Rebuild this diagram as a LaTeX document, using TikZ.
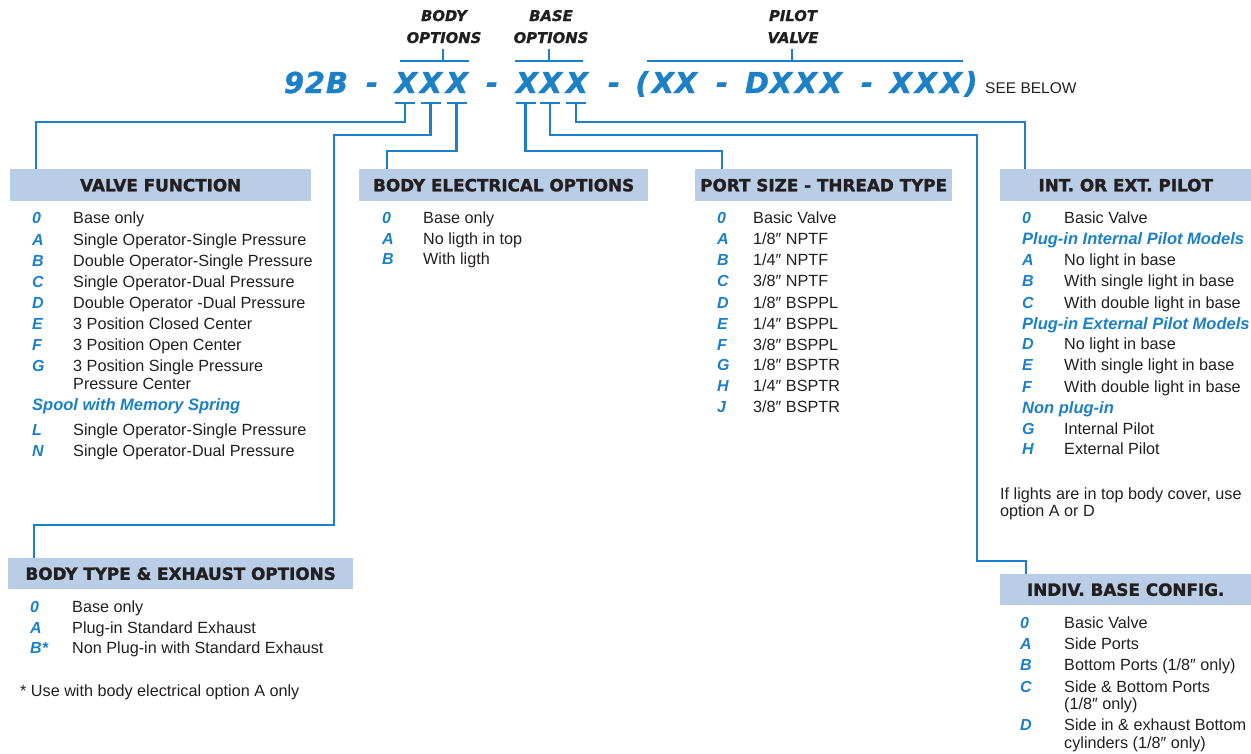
\documentclass[tikz,border=0pt]{standalone}
\usepackage{fontspec}
\setmainfont{Liberation Sans}
\newfontfamily\dvs{DejaVu Sans}
\newfontfamily\dvsh[FakeBold=1.6]{DejaVu Sans}
\newfontfamily\dvsc[FakeBold=1.2]{DejaVu Sans}
\definecolor{vblue}{RGB}{27,128,198}
\definecolor{hfill}{RGB}{185,205,230}
\definecolor{ink}{RGB}{35,31,32}
\tikzset{
 conn/.style={draw=vblue, line width=2.2pt},
 body/.style={anchor=base west, inner sep=0, text=ink, font=\fontsize{16.2}{19}\selectfont},
 lab/.style={anchor=base west, inner sep=0, text=vblue, font=\bfseries\itshape\fontsize{16}{19}\selectfont},
 sub/.style={anchor=base west, inner sep=0, text=vblue, font=\bfseries\itshape\fontsize{16.5}{19}\selectfont},
 hdr/.style={anchor=north west, fill=hfill, inner sep=0, minimum height=32pt, text=ink, font=\dvsh\bfseries\fontsize{16.8}{20}\selectfont},
 code/.style={anchor=base, inner sep=0, text=vblue, font=\dvsc\bfseries\itshape\fontsize{28.8}{30}\selectfont},
 ttl/.style={anchor=base, inner sep=0, text=ink, font=\dvsc\bfseries\itshape\fontsize{14.8}{17}\selectfont},
}
\newcommand\optrow[6]{\node[lab] (#1l) at (#2,#4) {#5}; \node[body] (#1t) at (#3,#4) {#6};}
\begin{document}
\begin{tikzpicture}[x=1pt,y=-1pt]
\useasboundingbox (0,0) rectangle (1251,753);

% title labels
\node[ttl] (tbody) at (444,21) {BODY};
\node[ttl] (tbopt) at (444,43) {OPTIONS};
\node[ttl] (tbase) at (551,21) {BASE};
\node[ttl] (tbaopt) at (551,43) {OPTIONS};
\node[ttl] (tpil) at (793,21) {PILOT};
\node[ttl] (tval) at (793,43) {VALVE};

% brackets
\coordinate (k1) at (443,61);
\coordinate (k2) at (549,61);
\coordinate (k3) at (792,61);
\draw[conn] (400,61) -- (469,61);
\draw[conn] (515,61) -- (583,61);
\draw[conn] (647,61) -- (963,61);
\draw[conn] (k1) -- ++(0,-12);
\draw[conn] (k2) -- ++(0,-12);
\draw[conn] (k3) -- ++(0,-12);

% code characters
\foreach \px/\ch [count=\i] in {294/9,315/2,337/B,372/-,406/X,431/X,457/X,492/-,527/X,551/X,577/X,614/-,642/{(},663/X,686/X,722/-,757/D,781/X,806/X,831/X,867/-,901/X,926/X,951/X,971/{)}}
  \node[code] (c\i) at (\px,93) {\ch};
\node[body, font=\fontsize{15.5}{18}\selectfont] (seebelow) at (985,93) {SEE BELOW};

% bars under X
\coordinate (b1) at (405,103);
\coordinate (b2) at (430.5,103);
\coordinate (b3) at (456.5,103);
\coordinate (b4) at (525.5,103);
\coordinate (b5) at (550,103);
\coordinate (b6) at (576,103);
\foreach \b in {b1,b2,b3,b4,b5,b6}
  \draw[conn, line width=2.6pt] ([xshift=-10pt]\b) -- ([xshift=10pt]\b);

% header boxes
\node[hdr, minimum width=301pt] (vf) at (10,169) {VALVE FUNCTION};
\node[hdr, minimum width=289pt] (be) at (359,169) {BODY ELECTRICAL OPTIONS};
\node[hdr, minimum width=257pt] (ps) at (695,169) {PORT SIZE - THREAD TYPE};
\node[hdr, minimum width=251pt] (ip) at (1000,169) {INT. OR EXT. PILOT};
\node[hdr, minimum width=345pt, minimum height=31pt] (bt) at (8,558) {BODY TYPE \& EXHAUST OPTIONS};
\node[hdr, minimum width=251pt, minimum height=31pt] (ib) at (1000,574) {INDIV. BASE CONFIG.};

% connectors
\coordinate (j2) at (334,525);
\coordinate (j5) at (977,561);
\draw[conn] (b1) -- ++(0,19) -| ([xshift=26pt]vf.north west);
\draw[conn] (b2) -- ++(0,32) -| (j2) -| ([xshift=26pt]bt.north west);
\draw[conn] (b3) -- ++(0,48) -| ([xshift=28pt]be.north west);
\draw[conn] (b4) -- ++(0,48) -| ([xshift=27pt]ps.north west);
\draw[conn] (b5) -- ++(0,32) -| (j5) -| ([xshift=26pt]ib.north west);
\draw[conn] (b6) -- ++(0,19) -| ([xshift=25pt]ip.north west);

% valve function
\optrow{vf0}{32}{73}{223}{0}{Base only}
\optrow{vfA}{32}{73}{245}{A}{Single Operator-Single Pressure}
\optrow{vfB}{32}{73}{266}{B}{Double Operator-Single Pressure}
\optrow{vfC}{32}{73}{287}{C}{Single Operator-Dual Pressure}
\optrow{vfD}{32}{73}{308}{D}{Double Operator -Dual Pressure}
\optrow{vfE}{32}{73}{329}{E}{3 Position Closed Center}
\optrow{vfF}{32}{73}{350}{F}{3 Position Open Center}
\optrow{vfG}{32}{73}{371}{G}{3 Position Single Pressure}
\node[body] (vfG2) at (73,389) {Pressure Center};
\node[sub] (vfsub) at (32,410) {Spool with Memory Spring};
\optrow{vfL}{32}{73}{435}{L}{Single Operator-Single Pressure}
\optrow{vfN}{32}{73}{456}{N}{Single Operator-Dual Pressure}

% body electrical
\optrow{be0}{382}{423}{223}{0}{Base only}
\optrow{beA}{382}{423}{244}{A}{No ligth in top}
\optrow{beB}{382}{423}{264}{B}{With ligth}

% port size
\optrow{ps0}{717}{753}{223}{0}{Basic Valve}
\optrow{psA}{717}{753}{244}{A}{1/8″ NPTF}
\optrow{psB}{717}{753}{265}{B}{1/4″ NPTF}
\optrow{psC}{717}{753}{286}{C}{3/8″ NPTF}
\optrow{psD}{717}{753}{308}{D}{1/8″ BSPPL}
\optrow{psE}{717}{753}{329}{E}{1/4″ BSPPL}
\optrow{psF}{717}{753}{350}{F}{3/8″ BSPPL}
\optrow{psG}{717}{753}{370}{G}{1/8″ BSPTR}
\optrow{psH}{717}{753}{391}{H}{1/4″ BSPTR}
\optrow{psJ}{717}{753}{412}{J}{3/8″ BSPTR}

% int or ext pilot
\optrow{ip0}{1022}{1064}{223}{0}{Basic Valve}
\node[sub] (ips1) at (1022,244) {Plug-in Internal Pilot Models};
\optrow{ipA}{1022}{1064}{265}{A}{No light in base}
\optrow{ipB}{1022}{1064}{286}{B}{With single light in base}
\optrow{ipC}{1022}{1064}{308}{C}{With double light in base}
\node[sub] (ips2) at (1022,329) {Plug-in External Pilot Models};
\optrow{ipD}{1022}{1064}{349}{D}{No light in base}
\optrow{ipE}{1022}{1064}{370}{E}{With single light in base}
\optrow{ipF}{1022}{1064}{392}{F}{With double light in base}
\node[sub] (ips3) at (1022,413) {Non plug-in};
\optrow{ipG}{1022}{1064}{434}{G}{Internal Pilot}
\optrow{ipH}{1022}{1064}{454}{H}{External Pilot}
\node[body] (ipn1) at (1000,499) {If lights are in top body cover, use};
\node[body] (ipn2) at (1000,516) {option A or D};

% body type
\optrow{bt0}{30}{72}{612}{0}{Base only}
\optrow{btA}{30}{72}{633}{A}{Plug-in Standard Exhaust}
\optrow{btB}{30}{72}{653}{B*}{Non Plug-in with Standard Exhaust}
\node[body] (btn) at (20,696) {* Use with body electrical option A only};

% indiv base config
\optrow{ib0}{1020}{1064}{628}{0}{Basic Valve}
\optrow{ibA}{1020}{1064}{649}{A}{Side Ports}
\optrow{ibB}{1020}{1064}{670}{B}{Bottom Ports (1/8″ only)}
\optrow{ibC}{1020}{1064}{692}{C}{Side \& Bottom Ports}
\node[body] (ibC2) at (1064,709) {(1/8″ only)};
\optrow{ibD}{1020}{1064}{730}{D}{Side in \& exhaust Bottom}
\node[body] (ibD2) at (1064,748) {cylinders (1/8″ only)};
\end{tikzpicture}
\end{document}
